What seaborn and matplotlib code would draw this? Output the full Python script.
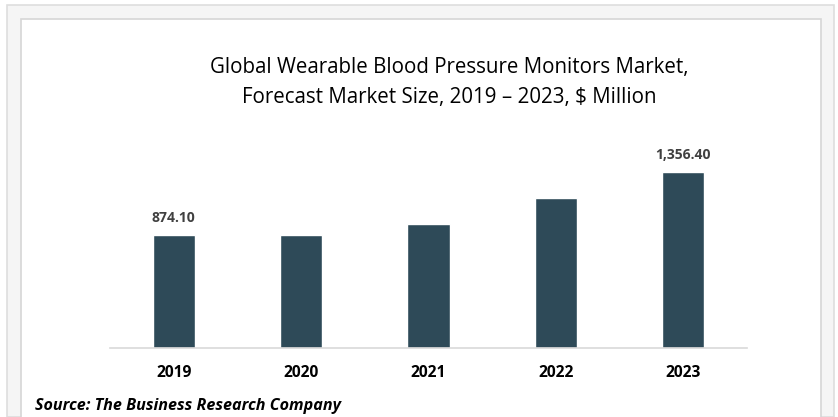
import matplotlib
matplotlib.use("Agg")
import matplotlib.pyplot as plt
from matplotlib.patches import Rectangle
import seaborn as sns
import pandas as pd

years = ["2019", "2020", "2021", "2022", "2023"]
market_size = [874.10, 870.0, 956.0, 1156.0, 1356.40]
shown_labels = {0: "874.10", 4: "1,356.40"}

sns.set_style("white")
plt.rcParams["font.family"] = ["Open Sans", "DejaVu Sans"]

W, H = 838, 417
fig = plt.figure(figsize=(W / 100, H / 100), dpi=100)
fig.patch.set_facecolor("white")

# frame: light grey outer band + white inner panel (kept behind the axes)
fig.patches.append(Rectangle((7 / W, 0), (834 - 7) / W, (H - 5) / H, transform=fig.transFigure,
                             facecolor="#f5f5f5", edgecolor="#dedede", linewidth=1.2, zorder=-10))
fig.patches.append(Rectangle((21 / W, -0.05), (821 - 21) / W, (H - 19) / H + 0.05, transform=fig.transFigure,
                             facecolor="white", edgecolor="#d6d6d6", linewidth=1.2, zorder=-9))

ax = fig.add_axes([110 / W, 69 / H, (747 - 110) / W, 194.6 / H])
ax.set_facecolor("none")

df = pd.DataFrame({"year": years, "value": market_size})
sns.barplot(data=df, x="year", y="value", color="#2e4a58", width=0.33, saturation=1, ax=ax)

ax.set_xlim(-0.5, 4.5)
ax.set_ylim(0, 1500)
ax.set_xlabel("")
ax.set_ylabel("")
ax.set_yticks([])
for s in ["top", "right", "left"]:
    ax.spines[s].set_visible(False)
ax.spines["bottom"].set_color("#d9d9d9")
ax.spines["bottom"].set_linewidth(1.2)
ax.tick_params(axis="x", length=0, pad=12)
for lbl in ax.get_xticklabels():
    lbl.set_fontweight("bold")
    lbl.set_fontsize(11.2)
    lbl.set_color("black")

for i, txt in shown_labels.items():
    ax.annotate(txt, (i, market_size[i]), xytext=(0, 7), textcoords="offset points",
                ha="center", va="bottom", fontsize=10, fontweight="bold", color="#404040")

fig.text(449 / W, 1 - 68 / H, "Global Wearable Blood Pressure Monitors Market,",
         ha="center", va="center", fontsize=14.8, color="black")
fig.text(449 / W, 1 - 97 / H, "Forecast Market Size, 2019 \u2013 2023, $ Million",
         ha="center", va="center", fontsize=14.8, color="black")

fig.text(35 / W, 1 - 406 / H, "Source: The Business Research Company",
         ha="left", va="center", fontsize=11.6, fontweight="bold", fontstyle="italic", color="black")

fig.savefig("out.png", dpi=100)
